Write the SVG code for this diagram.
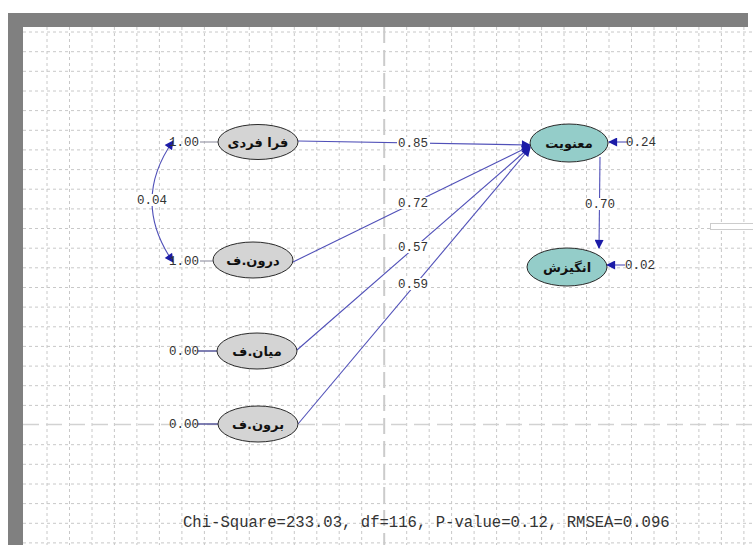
<svg xmlns="http://www.w3.org/2000/svg" width="753" height="545" viewBox="0 0 753 545">
<style>
.grid line{stroke:#c8c8c8;stroke-width:1;stroke-dasharray:3 3}
.major{stroke:#cbcbcb;stroke-width:2;stroke-dasharray:16 7;fill:none}
.edge{stroke:#5050b8;stroke-width:1.1;fill:none}
.var{stroke:#9a9aa8;stroke-width:1.2;fill:none}
.num{font-family:"Liberation Mono","DejaVu Sans Mono",monospace;font-size:12.5px;fill:#333}
.lbl{fill:#fff}
.latent{fill:#d4d4d4;stroke:#2a2a2a;stroke-width:1}
.endo{fill:#94cdc9;stroke:#2a2a2a;stroke-width:1}
.name{font-family:"DejaVu Sans",sans-serif;font-weight:bold;font-size:13px;fill:#111;text-anchor:middle}
.fit{font-family:"Liberation Mono",monospace;font-size:15.6px;fill:#333}
</style>
<defs>
<marker id="ah" viewBox="0 0 10 10" refX="9" refY="5" markerWidth="10" markerHeight="9" markerUnits="userSpaceOnUse" orient="auto-start-reverse">
<path d="M0,0 L10,5 L0,10 z" fill="#1c1ca8"/>
</marker>
</defs>
<rect x="0" y="0" width="753" height="545" fill="#fff"/>
<g class="grid">
<line x1="47" y1="27" x2="47" y2="545"/><line x1="69.5" y1="27" x2="69.5" y2="545"/><line x1="92" y1="27" x2="92" y2="545"/><line x1="114.4" y1="27" x2="114.4" y2="545"/><line x1="136.9" y1="27" x2="136.9" y2="545"/><line x1="159.4" y1="27" x2="159.4" y2="545"/><line x1="181.9" y1="27" x2="181.9" y2="545"/><line x1="204.4" y1="27" x2="204.4" y2="545"/><line x1="226.8" y1="27" x2="226.8" y2="545"/><line x1="249.3" y1="27" x2="249.3" y2="545"/><line x1="271.8" y1="27" x2="271.8" y2="545"/><line x1="294.3" y1="27" x2="294.3" y2="545"/><line x1="316.8" y1="27" x2="316.8" y2="545"/><line x1="339.2" y1="27" x2="339.2" y2="545"/><line x1="361.7" y1="27" x2="361.7" y2="545"/><line x1="406.7" y1="27" x2="406.7" y2="545"/><line x1="429.2" y1="27" x2="429.2" y2="545"/><line x1="451.6" y1="27" x2="451.6" y2="545"/><line x1="474.1" y1="27" x2="474.1" y2="545"/><line x1="496.6" y1="27" x2="496.6" y2="545"/><line x1="519.1" y1="27" x2="519.1" y2="545"/><line x1="541.6" y1="27" x2="541.6" y2="545"/><line x1="564" y1="27" x2="564" y2="545"/><line x1="586.5" y1="27" x2="586.5" y2="545"/><line x1="609" y1="27" x2="609" y2="545"/><line x1="631.5" y1="27" x2="631.5" y2="545"/><line x1="654" y1="27" x2="654" y2="545"/><line x1="676.4" y1="27" x2="676.4" y2="545"/><line x1="698.9" y1="27" x2="698.9" y2="545"/><line x1="721.4" y1="27" x2="721.4" y2="545"/><line x1="743.9" y1="27" x2="743.9" y2="545"/>
<line x1="23" y1="32" x2="753" y2="32"/><line x1="23" y1="51.7" x2="753" y2="51.7"/><line x1="23" y1="71.3" x2="753" y2="71.3"/><line x1="23" y1="91" x2="753" y2="91"/><line x1="23" y1="110.6" x2="753" y2="110.6"/><line x1="23" y1="130.3" x2="753" y2="130.3"/><line x1="23" y1="149.9" x2="753" y2="149.9"/><line x1="23" y1="169.6" x2="753" y2="169.6"/><line x1="23" y1="189.2" x2="753" y2="189.2"/><line x1="23" y1="208.9" x2="753" y2="208.9"/><line x1="23" y1="228.5" x2="753" y2="228.5"/><line x1="23" y1="248.2" x2="753" y2="248.2"/><line x1="23" y1="267.8" x2="753" y2="267.8"/><line x1="23" y1="287.5" x2="753" y2="287.5"/><line x1="23" y1="307.1" x2="753" y2="307.1"/><line x1="23" y1="326.8" x2="753" y2="326.8"/><line x1="23" y1="346.4" x2="753" y2="346.4"/><line x1="23" y1="366.1" x2="753" y2="366.1"/><line x1="23" y1="385.7" x2="753" y2="385.7"/><line x1="23" y1="405.4" x2="753" y2="405.4"/><line x1="23" y1="444.7" x2="753" y2="444.7"/><line x1="23" y1="464.3" x2="753" y2="464.3"/><line x1="23" y1="484" x2="753" y2="484"/><line x1="23" y1="503.6" x2="753" y2="503.6"/><line x1="23" y1="523.3" x2="753" y2="523.3"/><line x1="23" y1="542.9" x2="753" y2="542.9"/>
</g>
<line class="major" x1="384.2" y1="27" x2="384.2" y2="545"/>
<line class="major" x1="23" y1="424.5" x2="753" y2="424.5" style="stroke-width:1.5;stroke:#d2d2d2"/>
<rect x="710.5" y="223.5" width="44" height="6" fill="#fff" stroke="#999" stroke-width="1" stroke-dasharray="1 1"/>
<rect x="8" y="13" width="740" height="14" fill="#808080"/>
<rect x="8" y="13" width="15" height="532" fill="#808080"/>
<g id="connectors">
<line class="edge" x1="298" y1="141" x2="530" y2="145" marker-end="url(#ah)"/>
<line class="edge" x1="293" y1="262" x2="530" y2="146" marker-end="url(#ah)"/>
<line class="edge" x1="297" y1="350" x2="530" y2="147" marker-end="url(#ah)"/>
<line class="edge" x1="298" y1="424" x2="530" y2="148" marker-end="url(#ah)"/>
<line class="edge" x1="600" y1="157" x2="599" y2="248" marker-end="url(#ah)"/>
<path class="edge" d="M173,141 Q131,201 173,262" marker-start="url(#ah)" marker-end="url(#ah)"/>
<line class="edge" x1="628" y1="142" x2="609" y2="142" marker-end="url(#ah)"/>
<line class="edge" x1="625" y1="265" x2="607" y2="265" marker-end="url(#ah)"/>
<line class="var" x1="200" y1="142" x2="218" y2="142"/>
<line class="var" x1="200" y1="261" x2="213" y2="261"/>
<line class="edge" x1="198" y1="351" x2="217" y2="351" style="stroke:#6060a0;stroke-width:1.6"/>
<line class="edge" x1="198" y1="424" x2="218" y2="424" style="stroke:#6060a0;stroke-width:1.6"/>
<rect class="lbl" x="397" y="137" width="33" height="12"/>
<text class="num" x="413" y="147" text-anchor="middle">0.85</text>
<rect class="lbl" x="397" y="197" width="33" height="12"/>
<text class="num" x="413" y="207" text-anchor="middle">0.72</text>
<rect class="lbl" x="397" y="241" width="33" height="12"/>
<text class="num" x="413" y="251" text-anchor="middle">0.57</text>
<rect class="lbl" x="397" y="278" width="33" height="12"/>
<text class="num" x="413" y="288" text-anchor="middle">0.59</text>
<rect class="lbl" x="584" y="198" width="33" height="12"/>
<text class="num" x="600" y="208" text-anchor="middle">0.70</text>
<rect class="lbl" x="136" y="194" width="32" height="12"/>
<text class="num" x="152" y="204" text-anchor="middle">0.04</text>
</g>
<g id="n1"><ellipse class="latent" cx="258" cy="142" rx="40" ry="17.5"/><text class="name" x="258" y="146.5">فرا فردی</text><text class="num" x="184" y="146" text-anchor="middle">1.00</text></g>
<g id="n2"><ellipse class="latent" cx="253" cy="260" rx="40" ry="18"/><text class="name" x="253" y="264.5">درون.ف</text><text class="num" x="184" y="265" text-anchor="middle">1.00</text></g>
<g id="n3"><ellipse class="latent" cx="257" cy="351" rx="40" ry="18"/><text class="name" x="257" y="355.5">میان.ف</text><text class="num" x="184" y="355" text-anchor="middle">0.00</text></g>
<g id="n4"><ellipse class="latent" cx="258" cy="424" rx="40" ry="18"/><text class="name" x="258" y="428.5">برون.ف</text><text class="num" x="184" y="428" text-anchor="middle">0.00</text></g>
<g id="n5"><ellipse class="endo" cx="569" cy="143" rx="39" ry="19"/><text class="name" x="569" y="147.5">معنویت</text><text class="num" x="641" y="146" text-anchor="middle">0.24</text></g>
<g id="n6"><ellipse class="endo" cx="567" cy="267" rx="40" ry="19"/><text class="name" x="567" y="271.5">انگیزش</text><text class="num" x="640" y="269" text-anchor="middle">0.02</text></g>
<text class="fit" x="183" y="527">Chi-Square=233.03, df=116, P-value=0.12, RMSEA=0.096</text>
</svg>
